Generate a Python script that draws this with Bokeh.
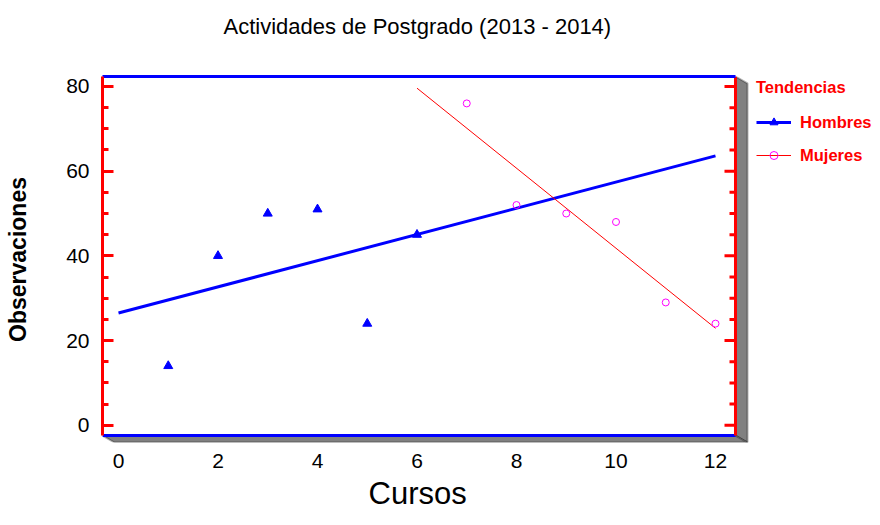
from bokeh.plotting import figure
from bokeh.models import (Range1d, LinearAxis, SingleIntervalTicker, FixedTicker,
                          Legend, LegendItem, PolyAnnotation, Title)
from bokeh.embed import file_html
from bokeh.resources import INLINE

# ---- data ----
cursos_hombres = [1, 2, 3, 4, 5, 6]
hombres = [14, 40, 50, 51, 24, 45]
cursos_mujeres = [7, 8, 9, 10, 11, 12]
mujeres = [76, 52, 50, 48, 29, 24]
tend_hombres_x = [0, 12]
tend_hombres_y = [26.5, 63.6]
tend_mujeres_x = [6, 12]
tend_mujeres_y = [79.6, 22.9]
x_ticks = [0, 2, 4, 6, 8, 10, 12]
y_ticks = [0, 20, 40, 60, 80]
y_minor_ticks = [5, 10, 15, 25, 30, 35, 45, 50, 55, 65, 70, 75]
title_text = "Actividades de Postgrado (2013 - 2014)"
x_label = "Cursos"
y_label = "Observaciones"
legend_title = "Tendencias"
series_names = ["Hombres", "Mujeres"]

SANS = "'Liberation Sans', Arial, sans-serif"
BLUE = "#0000FF"
RED = "#FF0000"
MAGENTA = "#FF00FF"

# ---- layout (pixels) ----
W, H = 872, 517
FL, FT, FB = 102, 76, 443               # frame left / top / bottom (bottom incl. shadow)
IR, IB, SR = 735, 436, 747              # inner box right / bottom, shadow right
PX0, PX12 = 118, 715                    # pixel of x=0 and x=12
PY0, PY80 = 425.7, 86                   # pixel of y=0 and y=80
sx = (PX12 - PX0) / 12.0
sy = (PY0 - PY80) / 80.0
X0, X1 = (FL - PX0) / sx, (W - PX0) / sx
Xi, Xs = (IR - PX0) / sx, (SR - PX0) / sx
Y1, Y0, Yi = (PY0 - FT) / sy, (PY0 - FB) / sy, (PY0 - IB) / sy

p = figure(width=W, height=H, x_range=Range1d(X0, X1), y_range=Range1d(Y0, Y1),
           title=None, output_backend="svg", toolbar_location=None,
           min_border_left=FL, min_border_right=0, min_border_top=FT,
           min_border_bottom=H - FB,
           background_fill_color="white", border_fill_color="white")
p.outline_line_color = None
p.xgrid.visible = False
p.ygrid.visible = False

# 3D shadow of the plot box (decoration)
shadow_kw = dict(fill_color="#808080", fill_alpha=1, line_color="black", line_width=2,
                 level="underlay")
p.add_layout(PolyAnnotation(xs=[Xi, Xs, Xs, Xi], ys=[Y1, Y1 - (Yi - Y0), Y0, Yi], **shadow_kw))
p.add_layout(PolyAnnotation(xs=[X0, Xi, Xs, X0 + (Xs - Xi)], ys=[Yi, Yi, Y0, Y0], **shadow_kw))

# bottom blue edge and right red edge (with inward ticks) of the plot box
p.line([X0, Xi], [Yi, Yi], line_color=BLUE, line_width=3)
p.line([Xi, Xi], [Yi, Y1], line_color=RED, line_width=3)
p.segment(x0=[Xi] * len(y_ticks), x1=[Xi - 11 / sx] * len(y_ticks), y0=y_ticks, y1=y_ticks,
          line_color=RED, line_width=3)
p.segment(x0=[Xi] * len(y_minor_ticks), x1=[Xi - 6 / sx] * len(y_minor_ticks),
          y0=y_minor_ticks, y1=y_minor_ticks, line_color=RED, line_width=3)

# x axis - tick labels only
xa = p.xaxis[0]
xa.ticker = FixedTicker(ticks=x_ticks)
xa.bounds = (X0, Xi)
xa.axis_line_color = None
xa.major_tick_in = 0
xa.major_tick_out = 0
xa.minor_tick_in = 0
xa.minor_tick_out = 0
xa.major_label_standoff = 11
xa.major_label_text_font = SANS
xa.major_label_text_font_size = "21px"
xa.major_label_text_color = "black"

# x axis title, centred under the plot box
xt = Title(text=x_label, align="left", offset=266, standoff=10, vertical_align="top",
           text_font=SANS, text_font_size="31px", text_font_style="normal",
           text_color="black")
p.add_layout(xt, "below")

# y axis (left) - red, inward ticks
ya = p.yaxis[0]
ya.ticker = SingleIntervalTicker(interval=20, num_minor_ticks=4)
ya.bounds = (Yi, Y1)
ya.axis_line_color = RED
ya.axis_line_width = 3
ya.major_tick_line_color = RED
ya.major_tick_line_width = 3
ya.minor_tick_line_color = RED
ya.minor_tick_line_width = 3
ya.major_tick_in = 11
ya.major_tick_out = 0
ya.minor_tick_in = 6
ya.minor_tick_out = 0
ya.major_label_standoff = 13
ya.major_label_text_font = SANS
ya.major_label_text_font_size = "21px"
ya.major_label_text_color = "black"
ya.axis_label = y_label
ya.axis_label_text_font = SANS
ya.axis_label_text_font_size = "23px"
ya.axis_label_text_font_style = "bold"
ya.axis_label_text_color = "black"
ya.axis_label_standoff = 32

# top blue edge; its (practically transparent) outward tick spaces the title
ta = LinearAxis(ticker=FixedTicker(ticks=[0]), axis_line_color=BLUE, axis_line_width=3,
                bounds=(X0, Xi),
                major_tick_in=0, major_tick_out=33, minor_tick_in=0, minor_tick_out=0,
                major_tick_line_color=BLUE, major_tick_line_alpha=0.001,
                major_label_overrides={0: ""},
                major_label_text_font_size="0px", major_label_standoff=0)
p.add_layout(ta, "above")

# chart title (left-aligned with an offset so it sits centred over the plot box)
tt = Title(text=title_text, align="left", offset=121, standoff=10, vertical_align="bottom",
           text_font=SANS, text_font_size="22px", text_font_style="normal",
           text_color="black")
p.add_layout(tt, "above")

# series
lh = p.line(tend_hombres_x, tend_hombres_y, line_color=BLUE, line_width=3)
sh = p.scatter(cursos_hombres, hombres, marker="triangle", size=9,
               fill_color=BLUE, line_color=BLUE)
lm = p.line(tend_mujeres_x, tend_mujeres_y, line_color=RED, line_width=1)
sm = p.scatter(cursos_mujeres, mujeres, marker="circle", size=7,
               fill_color=None, line_color=MAGENTA, line_width=1)

legend = Legend(items=[LegendItem(label=series_names[0], renderers=[lh, sh]),
                       LegendItem(label=series_names[1], renderers=[lm, sm])],
                title=legend_title, location=(756 - FL, FB - 166))
legend.border_line_color = None
legend.background_fill_alpha = 0
legend.padding = 0
legend.margin = 0
legend.spacing = 13
legend.glyph_width = 35
legend.glyph_height = 20
legend.label_standoff = 9
legend.title_standoff = 15
legend.label_text_font = SANS
legend.label_text_font_size = "16.5px"
legend.label_text_font_style = "bold"
legend.label_text_color = RED
legend.title_text_font = SANS
legend.title_text_font_size = "16.5px"
legend.title_text_font_style = "bold"
legend.title_text_color = RED
p.add_layout(legend)

open("out.html", "w").write(file_html(p, INLINE))
